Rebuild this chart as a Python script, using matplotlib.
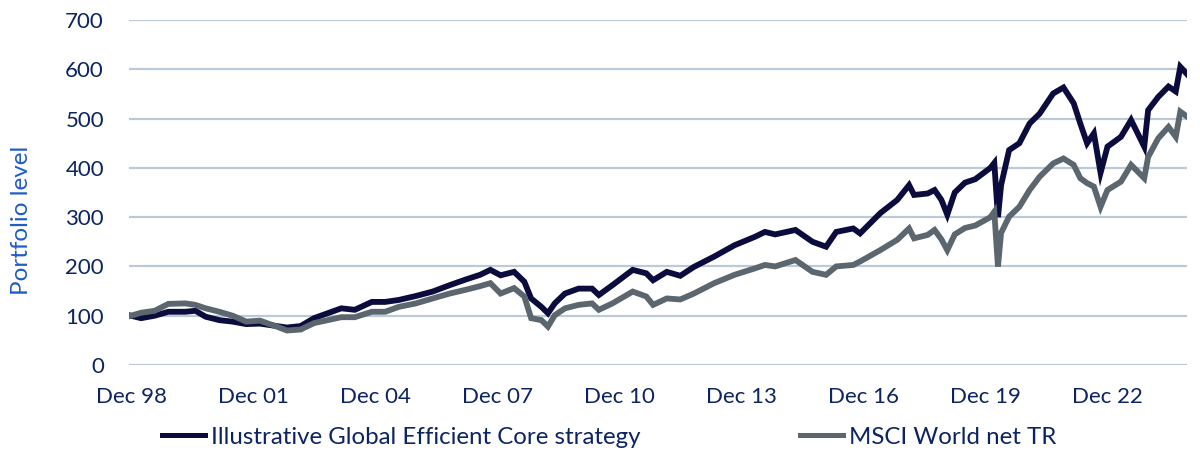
import matplotlib
matplotlib.use('Agg')
import matplotlib.pyplot as plt
import matplotlib.dates as mdates
import pandas as pd

# values (month dates, index level)
dates = [
    "1998-12-01", "1999-03-01", "1999-07-01", "1999-11-01", "2000-04-01", "2000-07-01",
    "2000-10-01", "2001-02-01", "2001-06-01", "2001-10-01", "2002-02-01", "2002-07-01",
    "2002-10-01", "2003-02-01", "2003-06-01", "2003-10-01", "2004-02-01", "2004-06-01",
    "2004-11-01", "2005-03-01", "2005-07-01", "2005-12-01", "2006-05-01", "2006-10-01",
    "2007-03-01", "2007-07-01", "2007-10-01", "2008-01-01", "2008-05-01", "2008-08-01",
    "2008-10-01", "2009-01-01", "2009-03-01", "2009-05-01", "2009-08-01", "2009-12-01",
    "2010-04-01", "2010-06-01", "2010-10-01", "2011-04-01", "2011-08-01", "2011-10-01",
    "2012-02-01", "2012-06-01", "2012-10-01", "2013-04-01", "2013-10-01", "2014-04-01",
    "2014-07-01", "2014-10-01", "2015-04-01", "2015-09-01", "2016-01-01", "2016-04-01",
    "2016-09-01", "2016-11-01", "2017-05-01", "2017-10-01", "2018-01-15", "2018-03-01",
    "2018-07-01", "2018-09-01", "2018-11-01", "2018-12-24", "2019-03-01", "2019-06-01",
    "2019-09-01", "2020-01-15", "2020-02-19", "2020-03-23", "2020-04-20", "2020-07-01",
    "2020-10-01", "2021-01-01", "2021-04-01", "2021-08-01", "2021-11-01", "2022-02-01",
    "2022-04-01", "2022-06-01", "2022-08-01", "2022-09-30", "2022-12-01", "2023-04-01",
    "2023-07-01", "2023-10-27", "2023-12-01", "2024-03-01", "2024-06-01", "2024-08-05",
    "2024-09-15", "2024-11-15",
]
strategy = [
    100, 95, 100, 108, 108, 110,
    98, 91, 88, 83, 84, 79,
    76, 79, 95, 105, 115, 112,
    128, 128, 132, 140, 149, 162,
    174, 183, 193, 182, 189, 169,
    135, 118, 105, 125, 145, 155,
    155, 142, 162, 193, 186, 172,
    189, 181, 199, 220, 243, 260,
    270, 265, 274, 250, 240, 270,
    277, 267, 308, 335, 365, 345,
    348, 355, 335, 305, 350, 370,
    377, 400, 410, 300, 365, 436,
    450, 490, 510, 551, 563, 531,
    490, 450, 470, 390, 443, 463,
    497, 443, 517, 544, 565, 555,
    605, 590,
]
msci = [
    100, 106, 110, 124, 125, 122,
    115, 108, 100, 88, 90, 78,
    70, 72, 85, 91, 97, 97,
    108, 108, 118, 125, 135, 145,
    153, 160, 166, 145, 156, 139,
    95, 91, 78, 101, 115, 122,
    125, 112, 125, 149, 139, 122,
    135, 133, 145, 166, 183, 196,
    203, 200, 213, 189, 183, 200,
    203, 210, 233, 254, 277, 257,
    264, 274, 255, 233, 265, 278,
    283, 300, 311, 200, 268, 301,
    321, 355, 382, 409, 419, 406,
    379, 369, 362, 321, 355, 372,
    406, 379, 422, 460, 483, 463,
    514, 504,
]
series_names = ["Illustrative Global Efficient Core strategy", "MSCI World net TR"]
yticks = [0, 100, 200, 300, 400, 500, 600, 700]

text_col = '#0c2461'
navy = '#0b0b3d'
grey = '#5b666e'

plt.rcParams['font.family'] = ['Lato', 'DejaVu Sans']
plt.rcParams['font.size'] = 16

x = pd.to_datetime(dates)

fig = plt.figure(figsize=(12, 4.61), dpi=100)
ax = fig.add_axes([129 / 1200, 96 / 461, 1058 / 1200, 345 / 461])

l1, = ax.plot(x, strategy, color=navy, lw=4.2, solid_joinstyle='miter', zorder=3)
l2, = ax.plot(x, msci, color=grey, lw=4.2, solid_joinstyle='miter', zorder=4)

ax.set_ylim(0, 700)
ax.set_yticks(yticks)
ax.set_xlim(pd.Timestamp('1998-11-13'), pd.Timestamp('2024-11-14'))
ax.set_xticks(pd.date_range('1998-12-01', periods=9, freq='36MS'))
ax.xaxis.set_major_formatter(mdates.DateFormatter('%b %y'))

ax.grid(axis='y', color='#bccad7', lw=1.6)
ax.set_axisbelow(True)
for s in ax.spines.values():
    s.set_visible(False)
ax.tick_params(axis='both', length=0, colors=text_col, labelsize=16)
ax.tick_params(axis='x', pad=16)
ax.tick_params(axis='y', pad=18)

fig.text(21 / 1200, 241 / 461, 'Portfolio level', rotation=90, ha='center',
         va='center', color='#1f5cc6', fontsize=17.5)

for line, name, x0 in [(l1, series_names[0], 162), (l2, series_names[1], 800)]:
    leg = fig.legend([line], [name], loc='center left',
                     bbox_to_anchor=(x0 / 1200, 24 / 461), frameon=False,
                     borderpad=0, borderaxespad=0, handlelength=1.8,
                     handletextpad=0.22, fontsize=17.3, labelcolor=text_col)
    for h in leg.legend_handles:
        h.set_linewidth(3.6)

fig.savefig('out.png', dpi=100)
